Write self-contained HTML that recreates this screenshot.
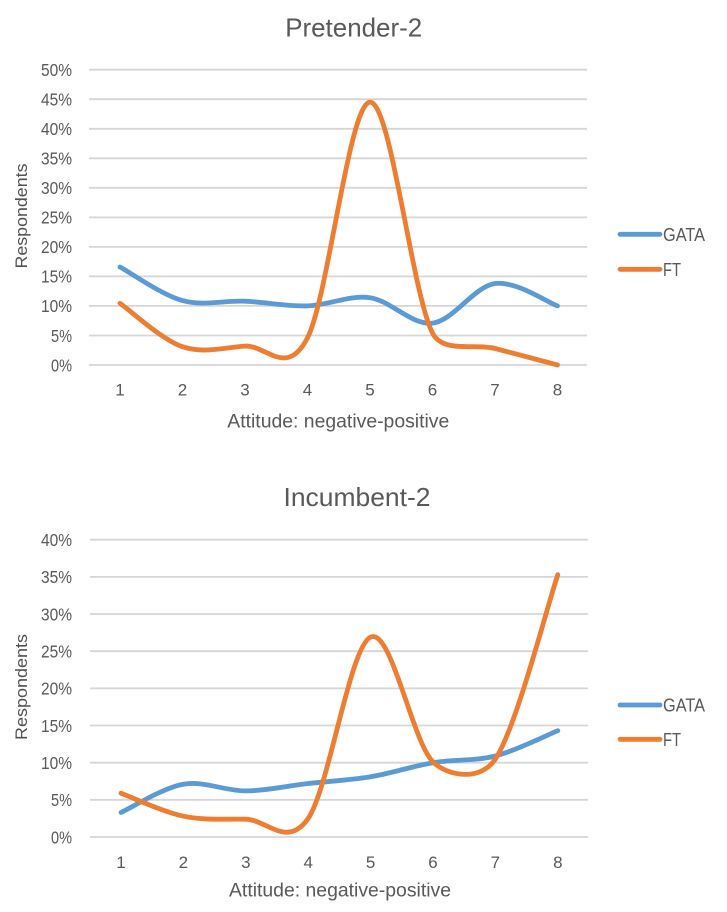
<!DOCTYPE html>
<html><head><meta charset="utf-8"><style>
html,body{margin:0;padding:0;background:#fff;}
svg{display:block;}
text{font-family:"Liberation Sans",sans-serif;fill:#595959;}
</style></head><body>
<svg width="727" height="912" viewBox="0 0 727 912" xmlns="http://www.w3.org/2000/svg">
<rect width="727" height="912" fill="#fff"/>
<!-- ===== Top chart ===== -->
<text x="353.7" y="36.7" font-size="26" text-anchor="middle" textLength="137" lengthAdjust="spacingAndGlyphs">Pretender-2</text>
<g stroke="#d6d6d6" stroke-width="1.8">
<line x1="89" y1="365" x2="587" y2="365"/>
<line x1="89" y1="335.5" x2="587" y2="335.5"/>
<line x1="89" y1="305.9" x2="587" y2="305.9"/>
<line x1="89" y1="276.4" x2="587" y2="276.4"/>
<line x1="89" y1="246.9" x2="587" y2="246.9"/>
<line x1="89" y1="217.4" x2="587" y2="217.4"/>
<line x1="89" y1="187.8" x2="587" y2="187.8"/>
<line x1="89" y1="158.3" x2="587" y2="158.3"/>
<line x1="89" y1="128.8" x2="587" y2="128.8"/>
<line x1="89" y1="99.2" x2="587" y2="99.2"/>
<line x1="89" y1="69.7" x2="587" y2="69.7"/>
</g>
<g font-size="17.5" text-anchor="end" lengthAdjust="spacingAndGlyphs">
<text x="72" y="371.3" textLength="21" lengthAdjust="spacingAndGlyphs">0%</text>
<text x="72" y="341.8" textLength="21" lengthAdjust="spacingAndGlyphs">5%</text>
<text x="72" y="312.2" textLength="31" lengthAdjust="spacingAndGlyphs">10%</text>
<text x="72" y="282.7" textLength="31" lengthAdjust="spacingAndGlyphs">15%</text>
<text x="72" y="253.2" textLength="31" lengthAdjust="spacingAndGlyphs">20%</text>
<text x="72" y="223.7" textLength="31" lengthAdjust="spacingAndGlyphs">25%</text>
<text x="72" y="194.1" textLength="31" lengthAdjust="spacingAndGlyphs">30%</text>
<text x="72" y="164.6" textLength="31" lengthAdjust="spacingAndGlyphs">35%</text>
<text x="72" y="135.1" textLength="31" lengthAdjust="spacingAndGlyphs">40%</text>
<text x="72" y="105.5" textLength="31" lengthAdjust="spacingAndGlyphs">45%</text>
<text x="72" y="76" textLength="31" lengthAdjust="spacingAndGlyphs">50%</text>
</g>
<g font-size="17" text-anchor="middle">
<text x="120" y="395.5">1</text>
<text x="182.5" y="395.5">2</text>
<text x="245" y="395.5">3</text>
<text x="307.5" y="395.5">4</text>
<text x="370" y="395.5">5</text>
<text x="432.5" y="395.5">6</text>
<text x="495" y="395.5">7</text>
<text x="557.5" y="395.5">8</text>
</g>
<text x="338.3" y="427.3" font-size="19.5" text-anchor="middle" textLength="222" lengthAdjust="spacingAndGlyphs">Attitude: negative-positive</text>
<text transform="translate(27,216) rotate(-90)" font-size="16.5" text-anchor="middle" textLength="105" lengthAdjust="spacingAndGlyphs" style="fill:#505050">Respondents</text>
<g fill="none" stroke-width="4.8" stroke-linecap="round" stroke-linejoin="round">
<path stroke="#5B9BD5" d="M120,267 C130.4,272.6 161.7,294.9 182.5,300.6 C203.3,306.3 224.2,300.3 245,301.2 C265.8,302.1 286.7,306.5 307.5,305.9 C328.3,305.3 349.2,294.8 370,297.7 C390.8,300.6 411.7,325.5 432.5,323.1 C453.3,320.7 474.2,286.4 495,283.5 C515.8,280.6 547.1,302.2 557.5,305.9"/>
<path stroke="#ED7D31" d="M120,303.3 C130.4,310.5 161.7,339.6 182.5,346.7 C203.3,353.8 224.2,347.6 245,346.1 C265.8,344.6 286.7,378.5 307.5,337.8 C328.3,297.2 349.2,103 370,102.2 C390.8,101.4 411.7,292.1 432.5,333.1 C442.9,353.6 474.2,343.2 495,348.5 C515.8,353.8 547.1,362.3 557.5,365"/>
</g>
<g stroke-width="4.8" stroke-linecap="round">
<line x1="620" y1="234.3" x2="660" y2="234.3" stroke="#5B9BD5"/>
<line x1="620" y1="269.3" x2="660" y2="269.3" stroke="#ED7D31"/>
</g>
<text x="663" y="241" font-size="18.5" textLength="42" lengthAdjust="spacingAndGlyphs">GATA</text>
<text x="663" y="276" font-size="18.5" textLength="18" lengthAdjust="spacingAndGlyphs">FT</text>

<!-- ===== Bottom chart ===== -->
<text x="357" y="506" font-size="26" text-anchor="middle" textLength="147" lengthAdjust="spacingAndGlyphs">Incumbent-2</text>
<g stroke="#d6d6d6" stroke-width="1.8">
<line x1="90" y1="837" x2="588" y2="837"/>
<line x1="90" y1="799.8" x2="588" y2="799.8"/>
<line x1="90" y1="762.7" x2="588" y2="762.7"/>
<line x1="90" y1="725.5" x2="588" y2="725.5"/>
<line x1="90" y1="688.4" x2="588" y2="688.4"/>
<line x1="90" y1="651.2" x2="588" y2="651.2"/>
<line x1="90" y1="614" x2="588" y2="614"/>
<line x1="90" y1="576.9" x2="588" y2="576.9"/>
<line x1="90" y1="539.7" x2="588" y2="539.7"/>
</g>
<g font-size="17.5" text-anchor="end">
<text x="72" y="843.3" textLength="21" lengthAdjust="spacingAndGlyphs">0%</text>
<text x="72" y="806.1" textLength="21" lengthAdjust="spacingAndGlyphs">5%</text>
<text x="72" y="769" textLength="31" lengthAdjust="spacingAndGlyphs">10%</text>
<text x="72" y="731.8" textLength="31" lengthAdjust="spacingAndGlyphs">15%</text>
<text x="72" y="694.7" textLength="31" lengthAdjust="spacingAndGlyphs">20%</text>
<text x="72" y="657.5" textLength="31" lengthAdjust="spacingAndGlyphs">25%</text>
<text x="72" y="620.3" textLength="31" lengthAdjust="spacingAndGlyphs">30%</text>
<text x="72" y="583.2" textLength="31" lengthAdjust="spacingAndGlyphs">35%</text>
<text x="72" y="546" textLength="31" lengthAdjust="spacingAndGlyphs">40%</text>
</g>
<g font-size="17" text-anchor="middle">
<text x="121" y="867.8">1</text>
<text x="183.4" y="867.8">2</text>
<text x="245.8" y="867.8">3</text>
<text x="308.2" y="867.8">4</text>
<text x="370.6" y="867.8">5</text>
<text x="433" y="867.8">6</text>
<text x="495.4" y="867.8">7</text>
<text x="557.8" y="867.8">8</text>
</g>
<text x="340" y="896.7" font-size="19.5" text-anchor="middle" textLength="222" lengthAdjust="spacingAndGlyphs">Attitude: negative-positive</text>
<text transform="translate(27,687) rotate(-90)" font-size="16.5" text-anchor="middle" textLength="106" lengthAdjust="spacingAndGlyphs" style="fill:#505050">Respondents</text>
<g fill="none" stroke-width="4.8" stroke-linecap="round" stroke-linejoin="round">
<path stroke="#5B9BD5" d="M121,812.5 C131.4,807.8 162.6,787.8 183.4,784.2 C204.2,780.6 225,791 245.8,790.9 C266.6,790.8 287.4,785.9 308.2,783.5 C329,781.2 349.8,780.3 370.6,776.8 C391.4,773.3 412.2,766.2 433,762.7 C453.8,759.2 474.6,761.3 495.4,756 C516.2,750.7 547.4,734.9 557.8,730.7"/>
<path stroke="#ED7D31" d="M121,793.2 C131.4,797 162.6,811.9 183.4,816.2 C204.2,820.5 225,818.8 245.8,819.2 C266.6,819.6 287.4,848.8 308.2,818.4 C329,788.1 349.8,646.5 370.6,637.1 C391.4,627.7 412.2,741.6 433,761.9 C447.4,776 480.1,782 495.4,759 C516.2,727.8 547.4,605.4 557.8,574.7"/>
</g>
<g stroke-width="4.8" stroke-linecap="round">
<line x1="620" y1="705" x2="660" y2="705" stroke="#5B9BD5"/>
<line x1="620" y1="739.3" x2="660" y2="739.3" stroke="#ED7D31"/>
</g>
<text x="663" y="711.7" font-size="18.5" textLength="42" lengthAdjust="spacingAndGlyphs">GATA</text>
<text x="663" y="746" font-size="18.5" textLength="18" lengthAdjust="spacingAndGlyphs">FT</text>
</svg>
</body></html>
